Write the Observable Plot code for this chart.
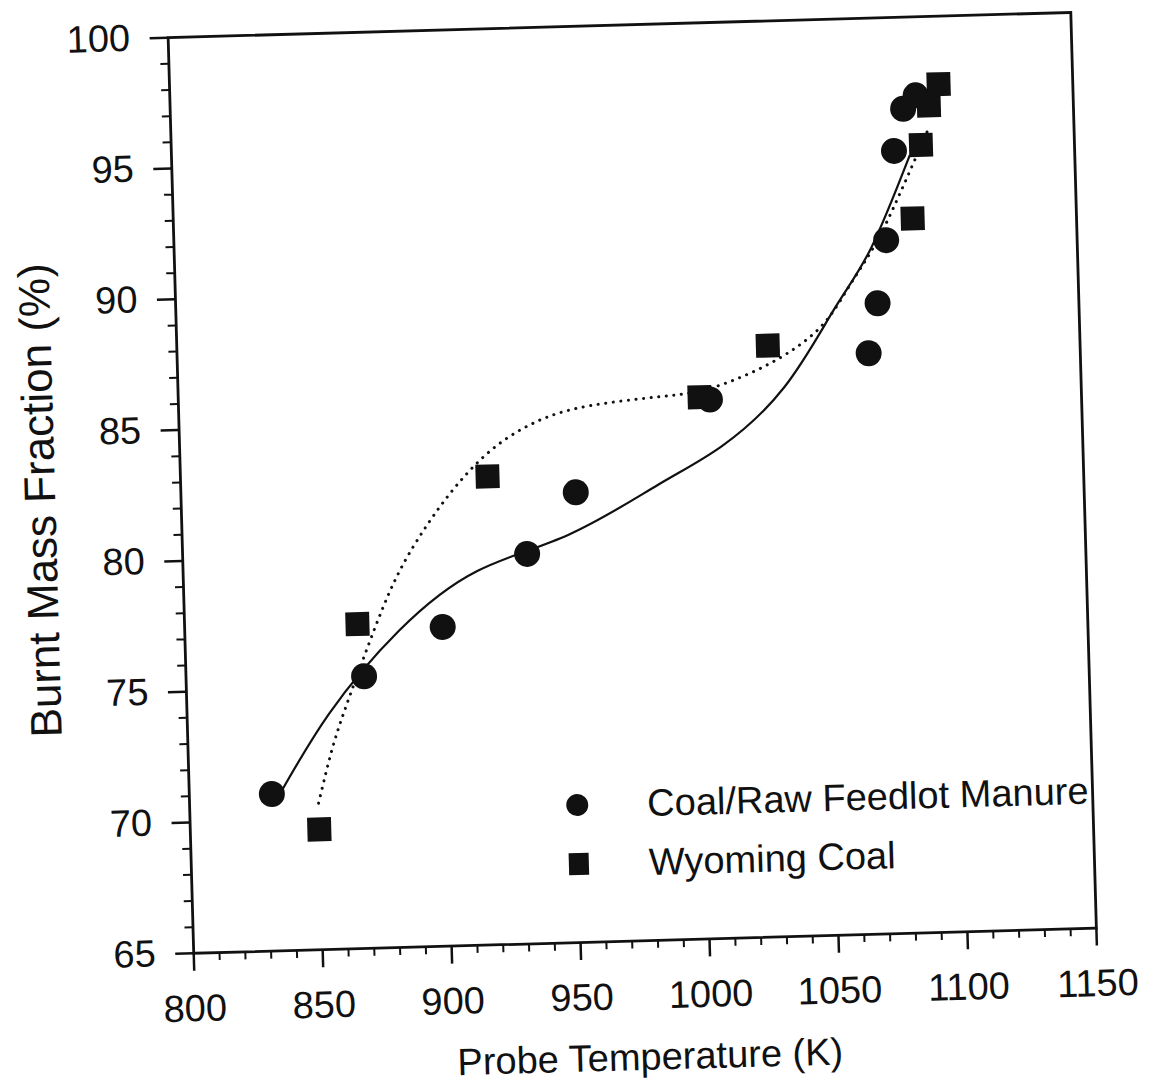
<!DOCTYPE html>
<html>
<head>
<meta charset="utf-8">
<script src="https://cdn.jsdelivr.net/npm/d3@7"></script>
<script src="https://cdn.jsdelivr.net/npm/@observablehq/plot@0.6"></script>
<style>
  html, body { margin: 0; padding: 0; background: #fff; overflow: hidden; }
  /* the reference is a slightly tilted scan: rotate the whole figure to match */
  #wrap { position: relative; width: 1150px; height: 1092px; font-family: "Liberation Sans", Arial, sans-serif; color: #111;
          transform: rotate(-1.6deg); transform-origin: 575px 546px; }
  #legend { position: absolute; left: 555px; top: 775px; }
  .row { display: flex; align-items: center; height: 59px; }
  .sym { width: 30px; height: 30px; display: flex; align-items: center; justify-content: center; }
  .lab { margin-left: 55px; font-size: 38px; line-height: 1; white-space: nowrap; }
</style>
</head>
<body>
<div id="wrap">
  <div id="chart"></div>
  <div id="legend"></div>
</div>
<script>
// ---- data ----
// Coal/Raw Feedlot Manure (circles)
const manureT = [832, 869, 900, 933.5, 953, 1006, 1068, 1072, 1076, 1080, 1084, 1089];
const manureV = [71.0, 75.4, 77.2, 79.9, 82.2, 85.6, 87.2, 89.1, 91.5, 94.9, 96.5, 97.0];
// Wyoming Coal (squares)
const wyomingT = [850, 867, 919, 1002, 1029, 1086.5, 1090.5, 1094, 1098];
const wyomingV = [69.6, 77.4, 82.9, 85.7, 87.6, 92.3, 95.1, 96.6, 97.4];
// fitted curve through the manure data (solid)
const manureFitT = [833, 855, 883, 914, 950, 985, 1010, 1035, 1055, 1070, 1086];
const manureFitV = [70.65, 74.0, 77.1, 79.3, 80.6, 82.4, 83.8, 86.0, 88.9, 91.2, 94.7];
// fitted curve through the Wyoming coal data (dotted)
const wyomingFitT = [850, 856, 863, 874, 884, 895, 907, 922, 940, 960, 985, 1005, 1025, 1040, 1052, 1062, 1072, 1082, 1094];
const wyomingFitV = [70.6, 72.7, 74.6, 77.3, 79.4, 81.1, 82.6, 84.0, 85.0, 85.5, 85.75, 86.0, 86.7, 87.5, 88.5, 89.9, 91.4, 93.3, 95.8];
// axes
const xTicks = [800, 850, 900, 950, 1000, 1050, 1100, 1150];
const yTicks = [65, 70, 75, 80, 85, 90, 95, 100];
const xMinor = d3.range(800, 1151, 10).filter(d => d % 50 !== 0);
const yMinor = d3.range(65, 101, 1).filter(d => d % 5 !== 0);
const xTitle = "Probe Temperature (K)";
const yTitle = "Burnt Mass Fraction (%)";
const seriesNames = ["Coal/Raw Feedlot Manure", "Wyoming Coal"];
const seriesSymbols = ["circle", "square"];

const zip = (T, V) => T.map((t, i) => ({t, v: V[i]}));
const manure = zip(manureT, manureV);
const wyoming = zip(wyomingT, wyomingV);
const manureFit = zip(manureFitT, manureFitV);
const wyomingFit = zip(wyomingFitT, wyomingFitV);

const ink = "#111";
const chart = Plot.plot({
  width: 1150,
  height: 1092,
  marginLeft: 182,
  marginRight: 65,
  marginTop: 26,
  marginBottom: 150,
  style: {fontFamily: '"Liberation Sans", Arial, sans-serif', color: ink, background: "#fff", overflow: "visible"},
  x: {domain: [800, 1150], axis: null},
  y: {domain: [65, 100], axis: null},
  marks: [
    Plot.axisX(xMinor, {tickSize: 8, strokeWidth: 2, tickFormat: () => "", label: null, stroke: ink}),
    Plot.axisX(xTicks, {tickSize: 18, strokeWidth: 2.5, tickPadding: 23, fontSize: 38, tickFormat: d => String(d), label: null, stroke: ink, fill: ink}),
    Plot.axisY(yMinor, {tickSize: 8, strokeWidth: 2, tickFormat: () => "", label: null, stroke: ink}),
    Plot.axisY(yTicks, {tickSize: 18, strokeWidth: 2.5, tickPadding: 20, fontSize: 38, tickFormat: d => String(d), label: null, stroke: ink, fill: ink}),
    Plot.frame({stroke: ink, strokeWidth: 2.8}),
    Plot.text([xTitle], {frameAnchor: "bottom", textAnchor: "middle", lineAnchor: "middle", dx: 2, dy: 117, fontSize: 38, fill: ink}),
    Plot.text([yTitle], {frameAnchor: "left", textAnchor: "middle", lineAnchor: "middle", rotate: -90, dx: -140, dy: 1, fontSize: 44, fill: ink}),
    Plot.line(manureFit, {x: "t", y: "v", curve: "natural", stroke: ink, strokeWidth: 2.2}),
    Plot.line(wyomingFit, {x: "t", y: "v", curve: "natural", stroke: ink, strokeWidth: 3, strokeDasharray: "0.1,7.5", strokeLinecap: "round"}),
    Plot.dot(wyoming, {x: "t", y: "v", symbol: "square", r: 13.5, fill: ink, stroke: "none"}),
    Plot.dot(manure, {x: "t", y: "v", symbol: "circle", r: 13, fill: ink, stroke: "none"})
  ]
});
document.getElementById("chart").appendChild(chart);

// legend
const legend = document.getElementById("legend");
seriesNames.forEach((name, i) => {
  const row = document.createElement("div");
  row.className = "row";
  const sym = document.createElement("div");
  sym.className = "sym";
  sym.innerHTML = seriesSymbols[i] === "circle"
    ? '<svg width="30" height="30"><circle cx="15" cy="15" r="11" fill="#111"/></svg>'
    : '<svg width="30" height="30"><rect x="5" y="4" width="20" height="22" fill="#111"/></svg>';
  const lab = document.createElement("div");
  lab.className = "lab";
  lab.textContent = name;
  row.appendChild(sym);
  row.appendChild(lab);
  legend.appendChild(row);
});
</script>
</body>
</html>
